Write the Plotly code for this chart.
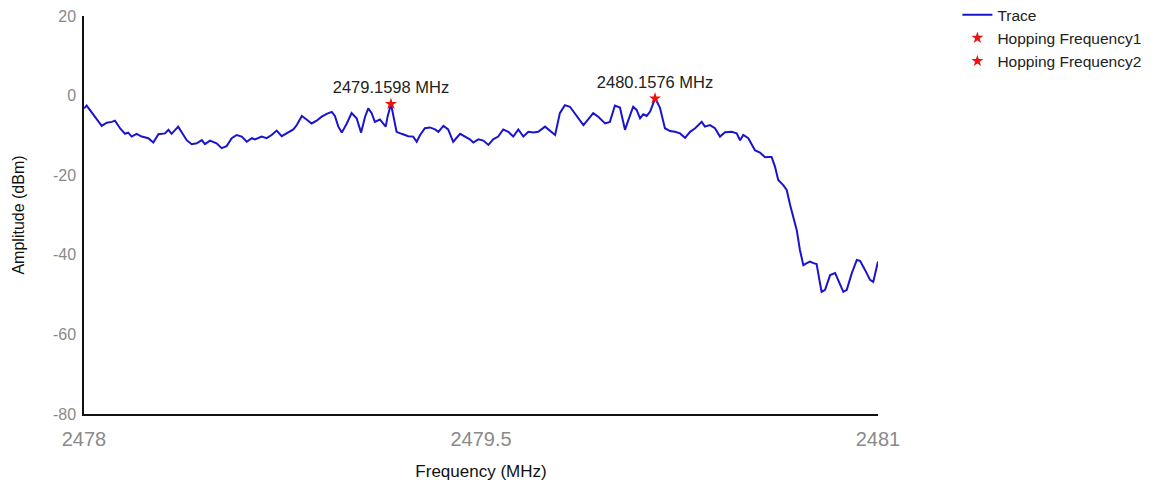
import plotly.graph_objects as go

# Trace data (frequency in MHz, amplitude in dBm)
freq_mhz = [
    2478.000, 2478.010, 2478.067, 2478.086, 2478.105, 2478.117, 2478.136, 2478.155, 2478.167, 2478.180,
    2478.199, 2478.218, 2478.243, 2478.262, 2478.281, 2478.306, 2478.319, 2478.331, 2478.356, 2478.369,
    2478.388, 2478.407, 2478.426, 2478.445, 2478.457, 2478.476, 2478.501, 2478.520, 2478.539, 2478.558,
    2478.577, 2478.596, 2478.615, 2478.634, 2478.646, 2478.671, 2478.690, 2478.709, 2478.728, 2478.747,
    2478.772, 2478.791, 2478.804, 2478.823, 2478.841, 2478.860, 2478.879, 2478.898, 2478.917, 2478.936,
    2478.948, 2478.961, 2478.974, 2478.993, 2479.011, 2479.030, 2479.047, 2479.062, 2479.074, 2479.087,
    2479.099, 2479.118, 2479.140, 2479.147, 2479.160, 2479.169, 2479.181, 2479.200, 2479.225, 2479.244,
    2479.257, 2479.270, 2479.288, 2479.307, 2479.326, 2479.339, 2479.358, 2479.376, 2479.395, 2479.421,
    2479.440, 2479.458, 2479.471, 2479.490, 2479.509, 2479.528, 2479.546, 2479.565, 2479.584, 2479.603,
    2479.622, 2479.641, 2479.660, 2479.679, 2479.698, 2479.716, 2479.742, 2479.761, 2479.780, 2479.798,
    2479.817, 2479.836, 2479.862, 2479.887, 2479.905, 2479.924, 2479.943, 2479.969, 2479.987, 2480.006,
    2480.025, 2480.044, 2480.057, 2480.075, 2480.088, 2480.101, 2480.113, 2480.126, 2480.139, 2480.158,
    2480.176, 2480.189, 2480.195, 2480.214, 2480.233, 2480.252, 2480.271, 2480.290, 2480.309, 2480.334,
    2480.346, 2480.365, 2480.384, 2480.403, 2480.422, 2480.447, 2480.466, 2480.479, 2480.491, 2480.510,
    2480.523, 2480.535, 2480.554, 2480.573, 2480.585, 2480.598, 2480.611, 2480.623, 2480.642, 2480.655,
    2480.668, 2480.680, 2480.693, 2480.705, 2480.718, 2480.731, 2480.743, 2480.756, 2480.768, 2480.781,
    2480.787, 2480.800, 2480.819, 2480.838, 2480.856, 2480.869, 2480.882, 2480.901, 2480.920, 2480.932,
    2480.951, 2480.970, 2480.982, 2480.995, 2481.000,
]
amplitude_dbm = [
    -3.2, -2.5, -7.6, -6.8, -6.6, -6.3, -8.2, -9.6, -9.3, -10.3,
    -9.6, -10.3, -10.7, -11.8, -9.7, -9.5, -8.6, -9.6, -7.8, -9.1,
    -11.2, -12.2, -12.0, -11.2, -12.2, -11.3, -12.0, -13.2, -12.7, -10.7,
    -9.9, -10.3, -11.6, -10.7, -11.0, -10.3, -10.7, -9.9, -8.8, -10.2,
    -9.3, -8.5, -7.4, -5.1, -6.0, -7.0, -6.3, -5.3, -4.6, -4.1,
    -5.1, -7.8, -9.3, -7.0, -4.4, -5.7, -9.3, -5.3, -3.2, -4.4,
    -6.6, -6.0, -7.8, -5.3, -2.1, -5.3, -9.1, -9.6, -10.2, -10.3,
    -11.6, -9.9, -8.2, -8.0, -8.5, -9.1, -7.6, -8.5, -11.6, -9.6,
    -10.3, -11.0, -11.8, -11.0, -11.3, -12.4, -11.0, -10.3, -8.5, -9.1,
    -10.3, -8.5, -10.3, -9.1, -9.3, -9.1, -7.8, -8.8, -9.9, -4.4,
    -2.4, -2.8, -5.3, -7.4, -6.0, -4.4, -5.3, -7.0, -6.6, -2.5,
    -3.0, -8.6, -6.1, -2.8, -3.6, -5.7, -4.7, -5.1, -4.0, -0.7,
    -3.0, -6.1, -8.2, -8.9, -9.1, -9.5, -10.6, -9.1, -8.2, -6.6,
    -7.8, -7.4, -8.2, -10.3, -9.2, -9.1, -9.5, -11.2, -9.9, -10.7,
    -12.4, -13.7, -14.3, -15.5, -15.4, -15.4, -17.9, -21.2, -22.5, -23.7,
    -27.5, -30.4, -33.8, -38.8, -42.6, -42.1, -41.7, -42.1, -42.3, -47.2,
    -49.3, -48.8, -45.1, -44.6, -47.2, -49.3, -48.8, -44.6, -41.3, -41.5,
    -43.8, -46.3, -46.8, -43.4, -41.7,
]

# Hopping frequency markers
hop_names = ["Hopping Frequency1", "Hopping Frequency2"]
hop_freq = [2479.1598, 2480.1576]
hop_amp = [-2.1, -0.7]

x_ticks = [2478, 2479.5, 2481]
x_tick_labels = ["2478", "2479.5", "2481"]
y_ticks = [-80, -60, -40, -20, 0, 20]
y_tick_labels = ["-80", "-60", "-40", "-20", "0", "20"]

FONT = "Liberation Sans, Arial, sans-serif"
trace_color = "#1a14cc"

fig = go.Figure()
fig.add_trace(go.Scatter(
    x=freq_mhz, y=amplitude_dbm, mode="lines", name="Trace",
    line=dict(color=trace_color, width=2),
))
for name, f, a in zip(hop_names, hop_freq, hop_amp):
    fig.add_trace(go.Scatter(
        x=[f], y=[a], mode="markers+text", name=name,
        marker=dict(symbol="star", size=9, color="#ee1111"),
        text=[f"{f:.4f} MHz"], textposition="top center",
        textfont=dict(family=FONT, size=16.5, color="#222222"),
    ))

fig.update_layout(
    width=1163, height=479,
    margin=dict(l=76, r=293, t=8, b=73, autoexpand=False),
    paper_bgcolor="white", plot_bgcolor="white",
    font=dict(family=FONT, size=14, color="#222222"),
    showlegend=True,
    legend=dict(
        x=1.1, y=1.045, xanchor="left", yanchor="top",
        font=dict(family=FONT, size=15.5, color="#222222"),
        bgcolor="rgba(0,0,0,0)", itemwidth=30,
    ),
    xaxis=dict(
        range=[2478, 2481], tickvals=x_ticks, ticktext=x_tick_labels,
        showgrid=False, zeroline=False, showline=True, linecolor="#111111", linewidth=1.5,
        ticks="", tickfont=dict(family=FONT, size=20, color="#8a8a8a"),
        ticklabelstandoff=6, ticklabeloverflow="allow",
        title=dict(text="Frequency (MHz)", font=dict(family=FONT, size=17, color="#111111"), standoff=16),
    ),
    yaxis=dict(
        range=[-80, 20], tickvals=y_ticks, ticktext=y_tick_labels,
        showgrid=False, zeroline=False, showline=True, linecolor="#111111", linewidth=1.5,
        ticks="", tickfont=dict(family=FONT, size=16, color="#8a8a8a"),
        ticklabelstandoff=3, ticklabeloverflow="allow",
        title=dict(text="Amplitude (dBm)", font=dict(family=FONT, size=16, color="#111111"), standoff=24),
    ),
)

fig.write_html("out.html")
